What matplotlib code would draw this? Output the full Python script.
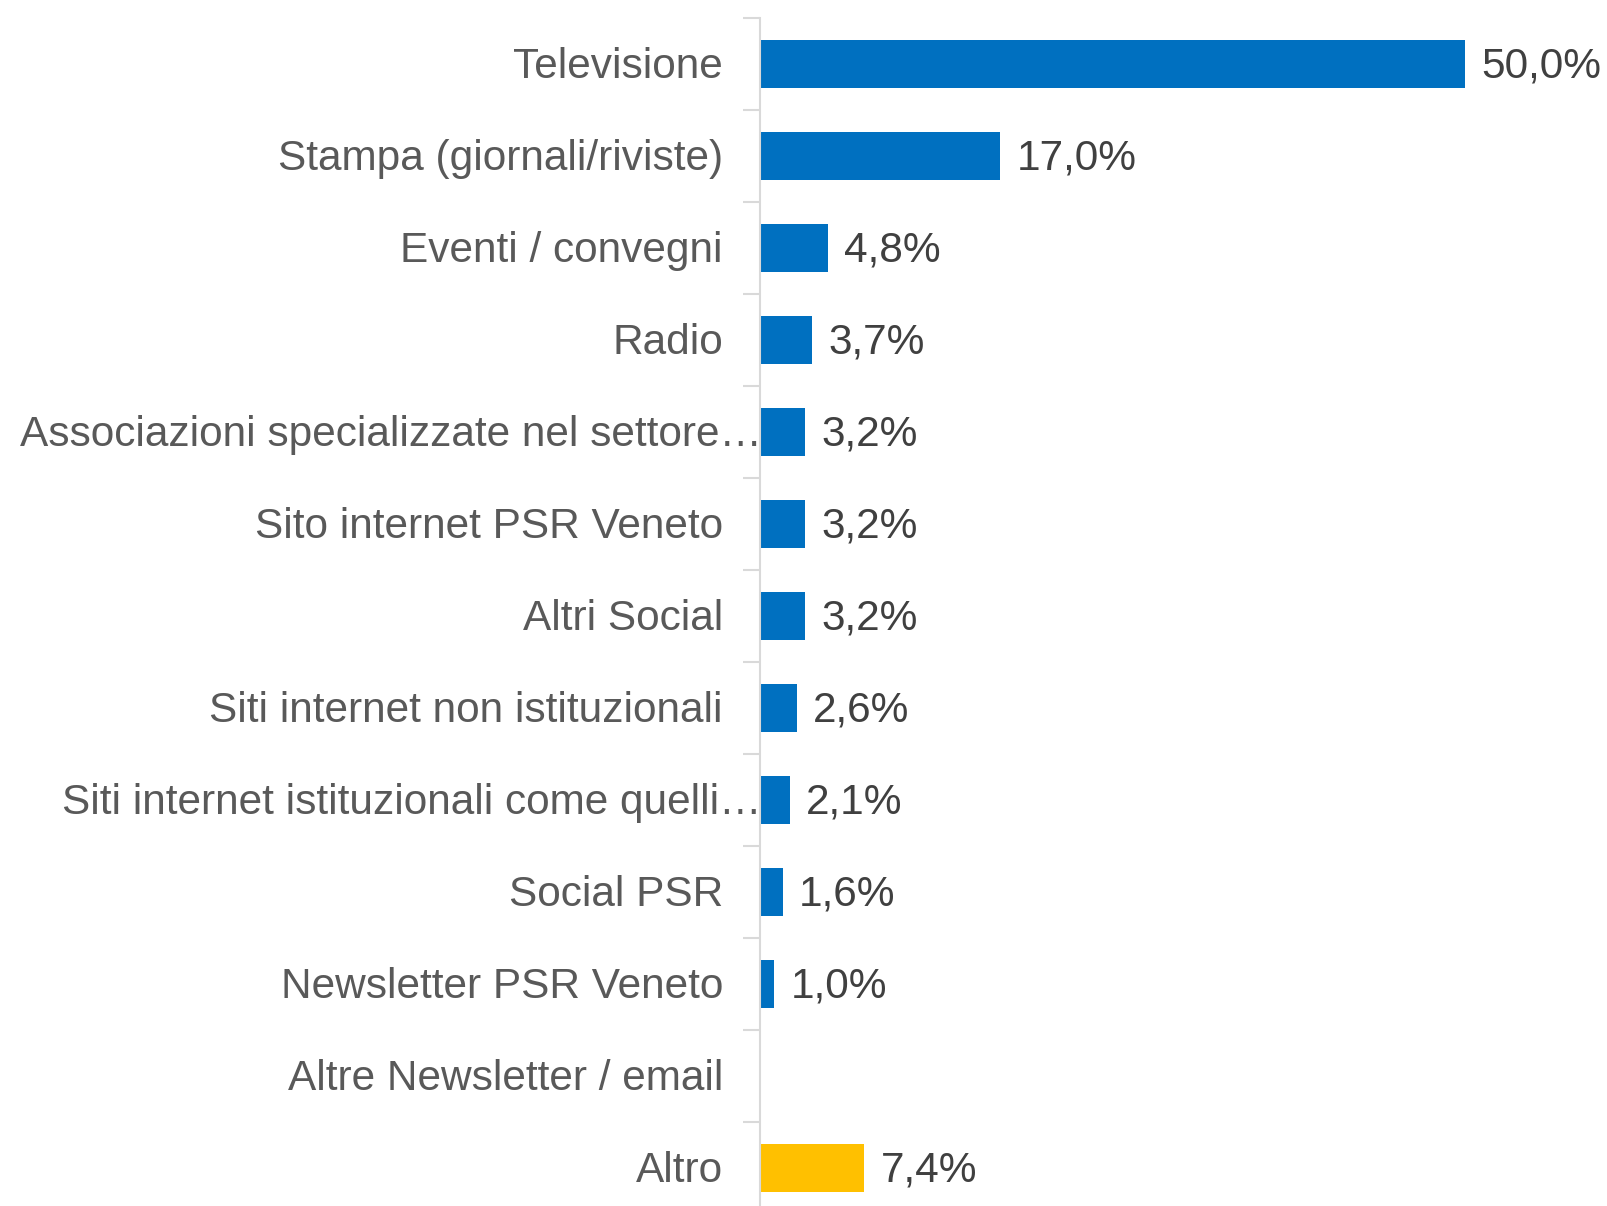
import numpy as np
import matplotlib
matplotlib.use("Agg")
import matplotlib.pyplot as plt
import matplotlib.transforms as mtransforms

plt.rcParams['font.family'] = ['Liberation Sans', 'DejaVu Sans']

# dati
categorie = ["Televisione", "Stampa (giornali/riviste)", "Eventi / convegni", "Radio",
             "Associazioni specializzate nel settore…", "Sito internet PSR Veneto",
             "Altri Social", "Siti internet non istituzionali",
             "Siti internet istituzionali come quelli…", "Social PSR",
             "Newsletter PSR Veneto", "Altre Newsletter / email", "Altro"]
valori = [50.0, 17.0, 4.8, 3.7, 3.2, 3.2, 3.2, 2.6, 2.1, 1.6, 1.0, None, 7.4]
colori = ["#0070C0"] * 12 + ["#FFC000"]
troncate = [4, 8]  # etichette tagliate con "…"

W, H = 1608, 1206
fig = plt.figure(figsize=(W / 100, H / 100), dpi=100)
ax = fig.add_axes([760 / W, (H - 1214) / H, (W - 760) / W, 1196.4 / H])

fs = 30.5
y = np.arange(len(categorie))
for i, (v, c) in enumerate(zip(valori, colori)):
    if v is None:
        continue
    ax.barh(i, v, height=0.52, color=c)
    ax.annotate(f"{v:.1f}".replace(".", ",") + "%", (v, i), xytext=(12, -2),
                textcoords="offset points", va="center", ha="left",
                fontsize=fs, color="#404040")

ax.set_xlim(0, 848 / 14.1)
ax.set_ylim(len(categorie) - 0.5, -0.5)

# etichette categorie
for i, lab in enumerate(categorie):
    dx = 2 if i in troncate else -37
    tr = mtransforms.offset_copy(ax.get_yaxis_transform(), fig=fig, x=dx, y=-3, units='dots')
    ax.text(0, i, lab, transform=tr, ha="right", va="center", fontsize=fs, color="#595959")

ax.set_yticks(np.arange(-0.5, len(categorie), 1.0))
ax.set_yticklabels([])
ax.tick_params(axis='y', length=12, width=1.5, color="#D9D9D9")
ax.set_xticks([])
for s in ["top", "right", "bottom"]:
    ax.spines[s].set_visible(False)
ax.spines["left"].set_color("#D9D9D9")
ax.spines["left"].set_linewidth(1.5)

fig.savefig("out.png", dpi=100)
